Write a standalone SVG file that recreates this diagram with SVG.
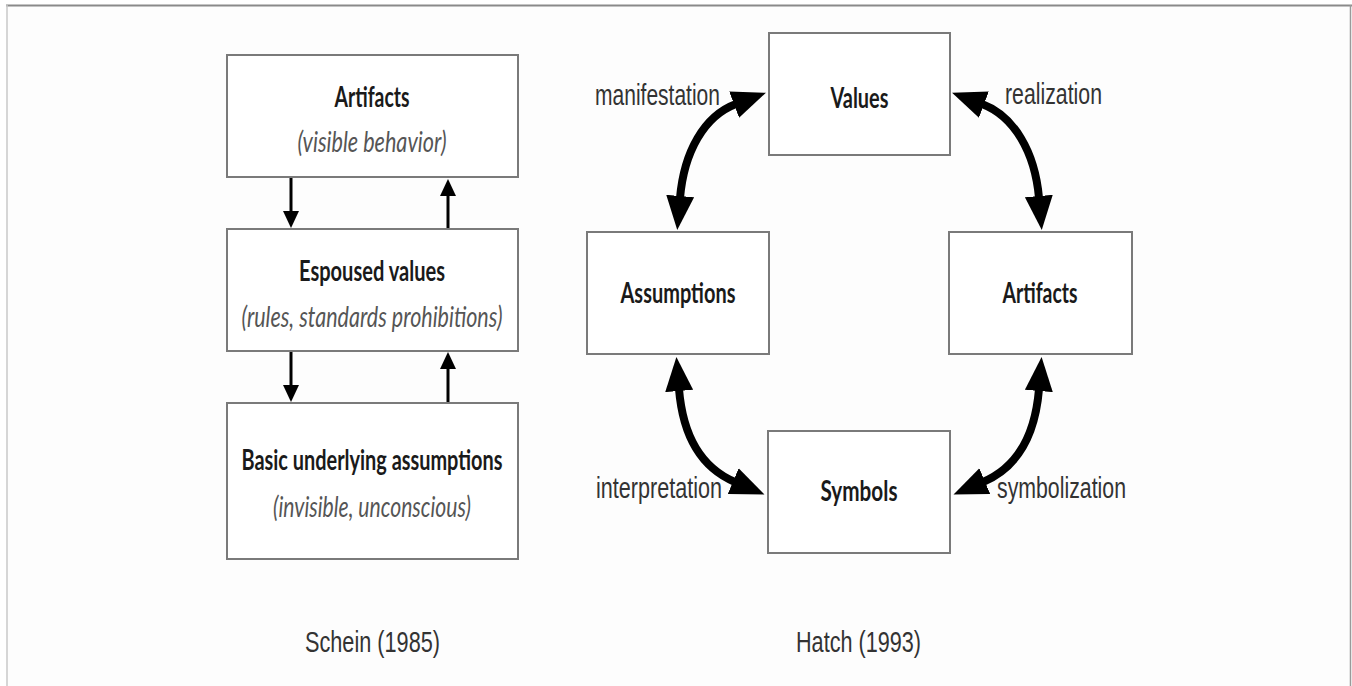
<svg xmlns="http://www.w3.org/2000/svg" width="1352" height="686" viewBox="0 0 1352 686">
<style>
.box{fill:#fff;stroke:#7a7a7a;stroke-width:2}
.b{font-family:Lato,"Open Sans",sans-serif;font-weight:700;font-size:28px;fill:#1a1a1a;text-anchor:middle}
.i{font-family:Lato,"Open Sans",sans-serif;font-style:italic;font-size:28px;fill:#555;text-anchor:middle}
.r{font-family:"Liberation Sans",Arial,sans-serif;font-size:30px;fill:#333;text-anchor:middle}
.thin{fill:none;stroke:#000;stroke-width:3}
.thick{fill:none;stroke:#000;stroke-width:8}
</style>
<defs>
<marker id="sm" markerUnits="userSpaceOnUse" viewBox="0 -9 18 18" refX="1" refY="0" markerWidth="18" markerHeight="18" orient="auto-start-reverse">
<path d="M0,-8 L17,0 L0,8 z" fill="#000"/>
</marker>
<marker id="bg" markerUnits="userSpaceOnUse" viewBox="0 -15 36 30" refX="2" refY="0" markerWidth="36" markerHeight="30" orient="auto-start-reverse">
<path d="M0,-14 L34,0 L0,14 z" fill="#000"/>
</marker>
</defs>
<rect x="0" y="0" width="1352" height="686" fill="#fff"/>
<rect x="7" y="6" width="1344" height="680" fill="#fdfdfd"/>
<line x1="6" y1="5.5" x2="1352" y2="5.5" stroke="#8a8a8a" stroke-width="2"/>
<line x1="7" y1="5" x2="7" y2="686" stroke="#c8c8c8" stroke-width="1.5"/>
<line x1="1350.5" y1="5" x2="1350.5" y2="686" stroke="#9a9a9a" stroke-width="1.5"/>

<g id="connectors">
<path class="thin" d="M291 177 L291 212" marker-end="url(#sm)"/>
<path class="thin" d="M448 229 L448 195" marker-end="url(#sm)"/>
<path class="thin" d="M291 351 L291 386" marker-end="url(#sm)"/>
<path class="thin" d="M448 403 L448 368" marker-end="url(#sm)"/>
<path class="thick" d="M736 104 C 704 116, 684 152, 680 198" marker-start="url(#bg)" marker-end="url(#bg)"/>
<path class="thick" d="M982 104 C 1014 116, 1035 152, 1039 198" marker-start="url(#bg)" marker-end="url(#bg)"/>
<path class="thick" d="M679 389 C 683 438, 702 468, 735 482" marker-start="url(#bg)" marker-end="url(#bg)"/>
<path class="thick" d="M1039 389 C 1035 438, 1016 468, 983 482" marker-start="url(#bg)" marker-end="url(#bg)"/>
</g>

<g id="schein-artifacts">
<rect class="box" x="227" y="55" width="291" height="122"/>
<text class="b" x="372" y="107" textLength="75" lengthAdjust="spacingAndGlyphs">Artifacts</text>
<text class="i" x="372" y="152" textLength="149" lengthAdjust="spacingAndGlyphs">(visible behavior)</text>
</g>
<g id="schein-espoused">
<rect class="box" x="227" y="229" width="291" height="122"/>
<text class="b" x="372" y="281" textLength="146" lengthAdjust="spacingAndGlyphs">Espoused values</text>
<text class="i" x="372" y="327" textLength="261" lengthAdjust="spacingAndGlyphs">(rules, standards prohibitions)</text>
</g>
<g id="schein-basic">
<rect class="box" x="227" y="403" width="291" height="156"/>
<text class="b" x="372" y="470" textLength="261" lengthAdjust="spacingAndGlyphs">Basic underlying assumptions</text>
<text class="i" x="372" y="517" textLength="198" lengthAdjust="spacingAndGlyphs">(invisible, unconscious)</text>
</g>

<g id="hatch-values">
<rect class="box" x="769" y="33" width="181" height="122"/>
<text class="b" x="859.5" y="108" textLength="58" lengthAdjust="spacingAndGlyphs">Values</text>
</g>
<g id="hatch-assumptions">
<rect class="box" x="587" y="232" width="182" height="122"/>
<text class="b" x="678" y="303" textLength="115" lengthAdjust="spacingAndGlyphs">Assumptions</text>
</g>
<g id="hatch-artifacts">
<rect class="box" x="949" y="232" width="183" height="122"/>
<text class="b" x="1040" y="303" textLength="75" lengthAdjust="spacingAndGlyphs">Artifacts</text>
</g>
<g id="hatch-symbols">
<rect class="box" x="768" y="431" width="182" height="122"/>
<text class="b" x="859" y="501" textLength="77" lengthAdjust="spacingAndGlyphs">Symbols</text>
</g>

<g id="labels">
<text class="r" x="657.5" y="105" textLength="125" lengthAdjust="spacingAndGlyphs">manifestation</text>
<text class="r" x="1053.5" y="104" textLength="97" lengthAdjust="spacingAndGlyphs">realization</text>
<text class="r" x="659" y="498" textLength="126" lengthAdjust="spacingAndGlyphs">interpretation</text>
<text class="r" x="1061.5" y="498" textLength="129" lengthAdjust="spacingAndGlyphs">symbolization</text>
<text class="r" x="372.5" y="652" textLength="135" lengthAdjust="spacingAndGlyphs">Schein (1985)</text>
<text class="r" x="858.5" y="652" textLength="125" lengthAdjust="spacingAndGlyphs">Hatch (1993)</text>
</g>
</svg>
